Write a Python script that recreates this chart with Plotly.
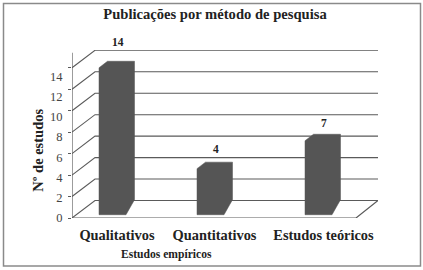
import plotly.graph_objects as go

categories = ["Qualitativos", "Quantitativos", "Estudos teóricos"]
values = [14, 4, 7]
drawn_heights = [14.0, 4.6, 7.2]  # visible front height of each bar, read on the gridline scale
y_ticks = [0, 2, 4, 6, 8, 10, 12, 14]

W, H = 423, 270
L, R, T, B = 72, 378, 50, 218.3
PX = 10.75                # pixels per y unit
LABEL_PX = 10.15          # tick labels are spaced slightly tighter than the ticks
Y_MAX = (B - T) / PX
DX, DY = 23, 17.5 / PX    # depth of the wall
FLOOR_END = 284           # front floor length along x
BAR_W, BAR_DX, BAR_DY = 27, 8.5, 6.5 / PX
BASE = 3.3 / PX
bar_left = [27, 125, 233]
label_x = [45, 142.5, 251.5]
value_label_shift = [11, 5, 3]

INK = "#5a5a5a"
TEXT = "#222222"
FONT = "Liberation Serif"
fig = go.Figure()


def line(xs, ys, color=INK, width=1.1):
    fig.add_trace(go.Scatter(x=xs, y=ys, mode="lines", hoverinfo="skip",
                             line=dict(color=color, width=width), showlegend=False))


# back wall lines, diagonals, floor
for v in y_ticks:
    line([0, DX, R - L], [v, v + DY, v + DY])
line([0, 0], [0, 15.4], width=1.2)
line([0, FLOOR_END, R - L], [0, 0, DY], width=1.2)

annotations = []

# bars
for x0, h, v, shift in zip(bar_left, drawn_heights, values, value_label_shift):
    xs = [x0, x0, x0 + BAR_DX, x0 + BAR_W + BAR_DX, x0 + BAR_W + BAR_DX, x0 + BAR_W, x0]
    ys = [BASE, h, h + BAR_DY, h + BAR_DY, BASE + 1.4, BASE, BASE]
    fig.add_trace(go.Scatter(x=xs, y=ys, mode="lines", fill="toself", fillcolor="#555555",
                             line=dict(color="#555555", width=0.5), hoverinfo="skip",
                             showlegend=False))
    annotations.append(dict(x=x0 + (BAR_W + BAR_DX) / 2 + 1.5, y=h + BAR_DY, yshift=shift, text=f"<b>{v}</b>",
                            showarrow=False, yanchor="bottom", xanchor="center",
                            font=dict(size=11.5, family=FONT, color=TEXT)))

# label-only axis
fig.add_trace(go.Scatter(x=[0], y=[0], yaxis="y2", mode="markers", marker=dict(opacity=0),
                         hoverinfo="skip", showlegend=False))

annotations += [
    dict(xref="paper", yref="paper", x=(166 - L) / (R - L), y=(B - 255) / (B - T), showarrow=False,
         xanchor="center", yanchor="middle",
         text="<b>Estudos empíricos</b>", font=dict(size=11.6, family=FONT, color=TEXT)),
    dict(xref="paper", yref="paper", x=(38 - L) / (R - L), y=(B - 151) / (B - T), showarrow=False,
         xanchor="center", yanchor="middle",
         textangle=-90, text="<b>Nº de estudos</b>", font=dict(size=14.5, family=FONT, color=TEXT)),
]

fig.update_layout(
    width=W, height=H, margin=dict(l=L, r=W - R, t=T, b=H - B, pad=0),
    paper_bgcolor="white", plot_bgcolor="white", showlegend=False,
    font=dict(family=FONT, color=TEXT),
    title=dict(text="<b>Publicações por método de pesquisa</b>", x=215 / W, y=1 - 14 / H,
               xanchor="center", yanchor="middle", font=dict(size=14.6, family=FONT, color=TEXT)),
    xaxis=dict(range=[0, R - L], tickmode="array", tickvals=label_x, ticktext=[f"<b>{c}</b>" for c in categories],
               ticks="", showgrid=False, zeroline=False, showline=False, ticklabelstandoff=7,
               tickfont=dict(size=14.4, family=FONT, color=TEXT)),
    yaxis=dict(range=[0, Y_MAX], tickmode="array", tickvals=y_ticks, ticktext=["" for _ in y_ticks],
               ticks="outside", ticklen=3, tickwidth=1, tickcolor=INK,
               showgrid=False, zeroline=False, showline=False),
    yaxis2=dict(range=[0, (B - T) / LABEL_PX], overlaying="y", side="left", tickmode="array",
                tickvals=y_ticks, ticktext=[str(v) for v in y_ticks], ticks="outside", ticklen=6,
                tickcolor="rgba(0,0,0,0)", showgrid=False, zeroline=False, showline=False,
                tickfont=dict(size=12.5, family=FONT, color="#444444")),
    annotations=annotations,
    shapes=[dict(type="rect", xref="paper", yref="paper",
                 x0=(3.5 - L) / (R - L), x1=(420.5 - L) / (R - L),
                 y0=(B - 266.5) / (B - T), y1=(B - 3.5) / (B - T),
                 line=dict(color="#8a8a8a", width=1.5), layer="below")],
)

fig.write_html("out.html", config={"displayModeBar": False}, post_script="document.body.style.margin='0';")
